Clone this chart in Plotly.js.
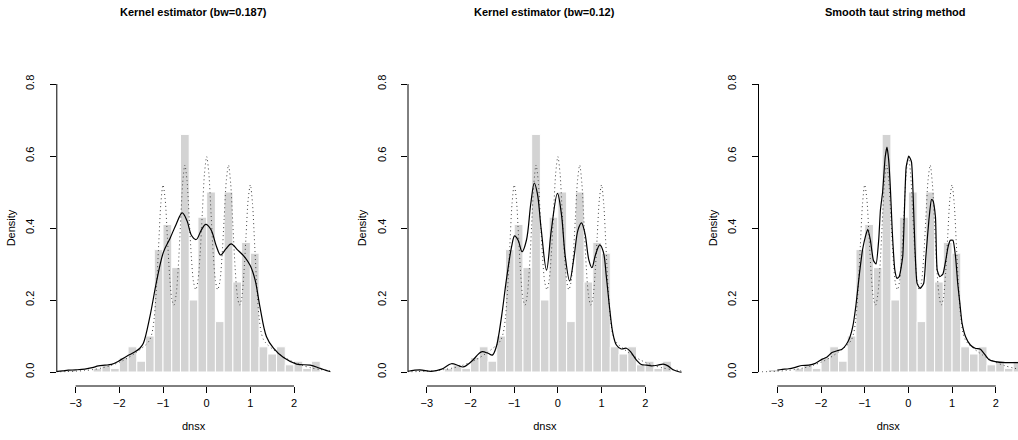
<!DOCTYPE html>
<html><head><meta charset="utf-8">
<script src="https://cdn.plot.ly/plotly-3.0.1.min.js"></script>
<style>html,body{margin:0;padding:0;background:#fff}#chart{width:1018px;height:440px}</style>
</head><body><div id="chart"></div>
<script>
// Panel titles
const panelTitles = ["Kernel estimator (bw=0.187)", "Kernel estimator (bw=0.12)", "Smooth taut string method"];
const xLabel = "dnsx";
const yLabel = "Density";
const xTickVals = [-3, -2, -1, 0, 1, 2];
const yTickVals = [0, 0.2, 0.4, 0.6, 0.8];
const yTickText = ["0.0", "0.2", "0.4", "0.6", "0.8"];

// Histogram (bin centres, densities), bin width 0.2
const binCenters = [-3.1,-2.9,-2.7,-2.5,-2.3,-2.1,-1.9,-1.7,-1.5,-1.3,-1.1,-0.9,-0.7,-0.5,-0.3,-0.1,0.1,0.3,0.5,0.7,0.9,1.1,1.3,1.5,1.7,1.9,2.1,2.3,2.5];
const binHeights = [0.007,0,0,0.01,0.02,0.01,0.04,0.07,0.03,0.10,0.34,0.41,0.29,0.66,0.20,0.43,0.50,0.14,0.50,0.25,0.36,0.33,0.07,0.05,0.07,0.02,0.03,0.01,0.03];
const binWidth = 0.2;

// True density (dotted)
const trueX = [-3.45,-3.2,-3.0,-2.8,-2.6,-2.4,-2.2,-2.0,-1.9,-1.8,-1.7,-1.6,-1.5,-1.4,-1.35,-1.3,-1.25,-1.2,-1.15,-1.1,-1.05,-1.0,-0.95,-0.9,-0.85,-0.8,-0.75,-0.7,-0.65,-0.6,-0.55,-0.5,-0.45,-0.4,-0.35,-0.3,-0.25,-0.2,-0.15,-0.1,-0.05,0,0.05,0.1,0.15,0.2,0.25,0.3,0.35,0.4,0.45,0.5,0.55,0.6,0.65,0.7,0.75,0.8,0.85,0.9,0.95,1.0,1.05,1.1,1.15,1.2,1.25,1.3,1.35,1.4,1.5,1.6,1.7,1.8,1.9,2.0,2.2,2.4,2.6,2.8,2.9];
const trueY = [0.0005,0.0012,0.0022,0.004,0.0068,0.0112,0.0178,0.027,0.0328,0.0395,0.047,0.0555,0.0648,0.0749,0.0811,0.0901,0.1088,0.1511,0.2324,0.3509,0.467,0.52,0.4792,0.3751,0.2694,0.2033,0.1856,0.2145,0.2918,0.4086,0.5235,0.5749,0.5323,0.4262,0.318,0.2491,0.2284,0.2539,0.3277,0.4406,0.5513,0.5984,0.5513,0.4406,0.3277,0.2539,0.2284,0.2491,0.318,0.4262,0.5323,0.5749,0.5235,0.4086,0.2918,0.2145,0.1856,0.2033,0.2694,0.3751,0.4792,0.52,0.467,0.3509,0.2324,0.1511,0.1088,0.0901,0.0811,0.0749,0.0648,0.0555,0.047,0.0395,0.0328,0.027,0.0178,0.0112,0.0068,0.004,0.003];

// Kernel estimate bw = 0.187
const kde1X = [-3.45,-3.3,-3.17,-3.0,-2.79,-2.62,-2.48,-2.33,-2.18,-2.02,-1.83,-1.64,-1.53,-1.45,-1.30,-1.15,-0.99,-0.84,-0.70,-0.56,-0.45,-0.35,-0.24,-0.12,-0.02,0.1,0.22,0.32,0.44,0.56,0.7,0.88,1.0,1.11,1.22,1.37,1.53,1.76,2.06,2.37,2.6,2.8,2.9];
const kde1Y = [0.001,0.003,0.005,0.006,0.008,0.012,0.017,0.019,0.021,0.03,0.044,0.056,0.066,0.08,0.154,0.25,0.333,0.371,0.41,0.442,0.42,0.38,0.368,0.395,0.41,0.395,0.35,0.325,0.342,0.356,0.34,0.318,0.295,0.255,0.181,0.098,0.066,0.04,0.022,0.019,0.01,0.002,0.0];

// Kernel estimate bw = 0.12
const kde2X = [-3.43,-3.16,-2.9,-2.66,-2.44,-2.28,-2.17,-1.98,-1.75,-1.6,-1.5,-1.41,-1.29,-1.18,-1.06,-0.99,-0.91,-0.82,-0.72,-0.62,-0.54,-0.47,-0.38,-0.26,-0.15,-0.01,0.08,0.17,0.27,0.37,0.46,0.54,0.62,0.71,0.78,0.86,0.96,1.04,1.11,1.19,1.26,1.34,1.45,1.57,1.68,1.8,1.91,2.03,2.14,2.29,2.41,2.52,2.64,2.79,2.9];
const kde2Y = [0.002,0.006,0.002,0.008,0.023,0.018,0.014,0.029,0.056,0.052,0.047,0.07,0.154,0.255,0.348,0.378,0.366,0.334,0.366,0.468,0.525,0.496,0.394,0.283,0.394,0.496,0.44,0.32,0.253,0.32,0.394,0.414,0.385,0.311,0.29,0.325,0.353,0.334,0.265,0.172,0.107,0.075,0.064,0.066,0.054,0.033,0.021,0.019,0.017,0.019,0.022,0.017,0.006,0.0,0.0];

// Smooth taut string estimate
const tautX = [-3.0,-2.91,-2.74,-2.59,-2.44,-2.28,-2.13,-1.98,-1.86,-1.75,-1.63,-1.52,-1.43,-1.35,-1.27,-1.2,-1.12,-1.05,-0.98,-0.93,-0.87,-0.8,-0.74,-0.68,-0.64,-0.59,-0.53,-0.49,-0.45,-0.41,-0.37,-0.31,-0.26,-0.21,-0.13,-0.08,-0.05,0.01,0.07,0.11,0.15,0.2,0.27,0.35,0.4,0.47,0.53,0.56,0.62,0.66,0.72,0.79,0.85,0.91,0.96,1.02,1.08,1.13,1.18,1.23,1.31,1.42,1.53,1.65,1.73,1.84,1.99,2.22,2.6];
const tautY = [0.005,0.007,0.009,0.013,0.018,0.019,0.024,0.035,0.042,0.054,0.059,0.063,0.075,0.093,0.128,0.186,0.274,0.339,0.378,0.396,0.366,0.31,0.3,0.366,0.45,0.5,0.598,0.625,0.588,0.505,0.394,0.283,0.26,0.265,0.32,0.487,0.57,0.6,0.584,0.487,0.348,0.246,0.232,0.246,0.32,0.422,0.479,0.477,0.431,0.283,0.265,0.272,0.306,0.348,0.366,0.366,0.32,0.246,0.19,0.135,0.098,0.075,0.066,0.063,0.052,0.035,0.029,0.026,0.026];

const estimatesX = [kde1X, kde2X, tautX];
const estimatesY = [kde1Y, kde2Y, tautY];

// ---- layout geometry (pixels) ----
const W = 1018, H = 440;
const pxPerUnit = 43.67;
const panelLeft = [56.8, 408.0, 758.5];
const xMin = -3.432, xMaxFull = 2.832;
const plotBottomPx = 386, plotTopPx = 70;
const yMin = -0.0389, yMax = 0.8389;

const FONT = "Liberation Sans, Arial, Helvetica, sans-serif";
const traces = [];
const layout = {
  width: W, height: H,
  margin: {l: 0, r: 0, t: 0, b: 0},
  paper_bgcolor: "#ffffff", plot_bgcolor: "#ffffff",
  showlegend: false, bargap: 0,
  font: {family: FONT, size: 11, color: "#000"},
  shapes: [], annotations: []
};

for (let i = 0; i < 3; i++) {
  const sfx = i === 0 ? "" : String(i + 1);
  const xa = "x" + sfx, ya = "y" + sfx;
  const left = panelLeft[i];
  let right = left + (xMaxFull - xMin) * pxPerUnit;
  let xMax = xMaxFull;
  if (right > W) { xMax = xMin + (W - left) / pxPerUnit; right = W; }

  traces.push({type: "bar", x: binCenters, y: binHeights, width: binWidth,
    xaxis: xa, yaxis: ya, marker: {color: "#d3d3d3", line: {color: "#ffffff", width: 1}}, hoverinfo: "skip"});
  traces.push({type: "scatter", mode: "lines", x: trueX, y: trueY, xaxis: xa, yaxis: ya,
    line: {color: "#444", width: 1, dash: "1px,3px", shape: "spline", smoothing: 0.8}, hoverinfo: "skip"});
  traces.push({type: "scatter", mode: "lines", x: estimatesX[i], y: estimatesY[i], xaxis: xa, yaxis: ya,
    line: {color: "#000", width: 1.2, shape: "spline", smoothing: i === 2 ? 0.5 : 1}, hoverinfo: "skip"});

  layout["xaxis" + sfx] = {
    domain: [left / W, right / W], range: [xMin, xMax], anchor: ya,
    showgrid: false, zeroline: false, showline: false,
    ticks: "outside", ticklen: 6, tickwidth: 1, tickcolor: "#000",
    tickvals: xTickVals, tickfont: {size: 11, family: FONT}, ticklabelstandoff: 1,
    title: {text: xLabel, font: {size: 11, family: FONT}, standoff: 14}
  };
  layout["yaxis" + sfx] = {
    domain: [1 - plotBottomPx / H, 1 - plotTopPx / H], range: [yMin, yMax], anchor: xa,
    showgrid: false, zeroline: false, showline: false,
    ticks: "outside", ticklen: 6, tickwidth: 1, tickcolor: "#000",
    tickvals: yTickVals, ticktext: yTickText, tickangle: -90,
    tickfont: {size: 11, family: FONT}, ticklabelstandoff: 11,
    title: {text: yLabel, font: {size: 11, family: FONT}, standoff: 6}
  };
  layout.shapes.push({type: "line", xref: xa, yref: ya + " domain", x0: xTickVals[0], x1: xTickVals[xTickVals.length - 1], y0: 0, y1: 0, line: {color: "#000", width: 1}});
  layout.shapes.push({type: "line", xref: xa + " domain", yref: ya, x0: 0, x1: 0, y0: yTickVals[0], y1: yTickVals[yTickVals.length - 1], line: {color: "#000", width: 1}});
  layout.annotations.push({text: "<b>" + panelTitles[i] + "</b>", xref: "paper", yref: "paper",
    x: ((left + (left + (xMaxFull - xMin) * pxPerUnit)) / 2) / W, y: 1 - 12 / H,
    xanchor: "center", yanchor: "middle", showarrow: false, font: {size: 11, family: FONT}});
}

Plotly.newPlot("chart", traces, layout, {staticPlot: true, displayModeBar: false});
</script></body></html>
